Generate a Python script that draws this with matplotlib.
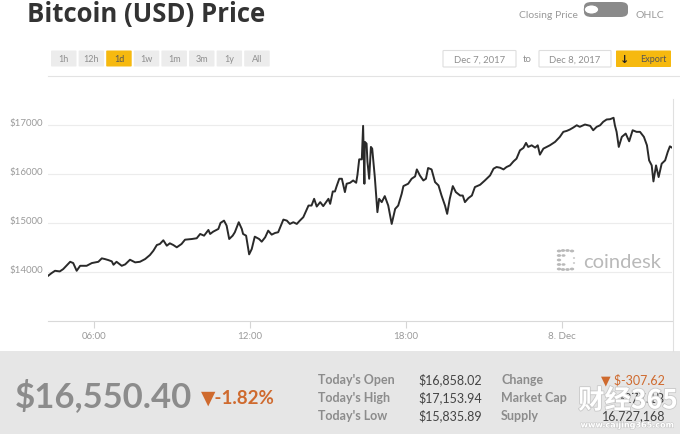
import matplotlib
matplotlib.use("Agg")
import matplotlib.pyplot as plt
import matplotlib.dates as mdates
import matplotlib.patheffects as pe
from matplotlib.patches import FancyBboxPatch, Rectangle, Circle
from matplotlib.lines import Line2D
import pandas as pd

plt.rcParams['font.family'] = ['Lato', 'DejaVu Sans']

# ---------------- data ----------------
times = [
    "07 04:14", "07 04:22", "07 04:30", "07 04:41", "07 04:49", "07 05:05", "07 05:12", "07 05:20",
    "07 05:28", "07 05:43", "07 05:55", "07 06:10", "07 06:18", "07 06:25", "07 06:33", "07 06:41",
    "07 06:45", "07 06:52", "07 07:04", "07 07:12", "07 07:23", "07 07:35", "07 07:46", "07 07:58",
    "07 08:09", "07 08:17", "07 08:25", "07 08:32", "07 08:40", "07 08:48", "07 08:55", "07 09:03",
    "07 09:11", "07 09:22", "07 09:30", "07 09:46", "07 09:57", "07 10:05", "07 10:14", "07 10:24",
    "07 10:28", "07 10:35", "07 10:47", "07 10:52", "07 11:00", "07 11:06", "07 11:12", "07 11:20",
    "07 11:25", "07 11:34", "07 11:41", "07 11:44", "07 11:51", "07 11:58", "07 12:04", "07 12:11",
    "07 12:21", "07 12:27", "07 12:35", "07 12:42", "07 12:50", "07 12:58", "07 13:05", "07 13:17",
    "07 13:25", "07 13:32", "07 13:40", "07 13:48", "07 13:55", "07 14:03", "07 14:15", "07 14:22",
    "07 14:28", "07 14:34", "07 14:42", "07 14:49", "07 15:01", "07 15:05", "07 15:11", "07 15:16",
    "07 15:20", "07 15:26", "07 15:32", "07 15:39", "07 15:43", "07 15:51", "07 15:58", "07 16:05",
    "07 16:08", "07 16:12", "07 16:18", "07 16:21", "07 16:24", "07 16:25", "07 16:29", "07 16:31",
    "07 16:35", "07 16:39", "07 16:42", "07 16:48", "07 16:54", "07 16:58", "07 17:04", "07 17:11",
    "07 17:19", "07 17:27", "07 17:35", "07 17:42", "07 17:50", "07 17:54", "07 18:05", "07 18:13",
    "07 18:21", "07 18:25", "07 18:32", "07 18:40", "07 18:46", "07 18:51", "07 18:59", "07 19:07",
    "07 19:15", "07 19:22", "07 19:30", "07 19:35", "07 19:41", "07 19:48", "07 19:55", "07 20:05",
    "07 20:11", "07 20:16", "07 20:24", "07 20:32", "07 20:39", "07 20:51", "07 21:02", "07 21:14",
    "07 21:22", "07 21:29", "07 21:37", "07 21:45", "07 21:52", "07 22:00", "07 22:08", "07 22:15",
    "07 22:23", "07 22:31", "07 22:37", "07 22:42", "07 22:50", "07 22:58", "07 23:04", "07 23:09",
    "07 23:17", "07 23:32", "07 23:44", "07 23:55", "08 00:03", "08 00:11", "08 00:18", "08 00:26",
    "08 00:34", "08 00:41", "08 00:53", "08 01:05", "08 01:12", "08 01:20", "08 01:28", "08 01:35",
    "08 01:43", "08 01:51", "08 01:59", "08 02:02", "08 02:06", "08 02:11", "08 02:18", "08 02:27",
    "08 02:35", "08 02:43", "08 02:52", "08 03:00", "08 03:09", "08 03:16", "08 03:21", "08 03:27",
    "08 03:31", "08 03:37", "08 03:43", "08 03:50", "08 03:58", "08 04:04", "08 04:09", "08 04:13",
]
prices = [
    13924, 13979, 14027, 14014, 14062, 14211, 14185, 14027,
    14129, 14129, 14185, 14211, 14281, 14267, 14246, 14220,
    14150, 14211, 14129, 14158, 14253, 14199, 14211, 14267,
    14349, 14437, 14554, 14575, 14651, 14540, 14589, 14554,
    14507, 14575, 14663, 14677, 14692, 14780, 14745, 14862,
    14780, 14827, 14883, 15006, 15053, 14951, 14677, 14745,
    14815, 15020, 14883, 14780, 14745, 14363, 14472, 14725,
    14677, 14622, 14712, 14848, 14766, 14801, 14815, 15074,
    15053, 14985, 15020, 14985, 15053, 15123, 15361, 15361,
    15499, 15341, 15431, 15349, 15499, 15396, 15649, 15649,
    15759, 15909, 15909, 15636, 15807, 15827, 15874, 15827,
    15991, 16306, 16306, 16991, 15807, 16663, 16628, 16258,
    15909, 16560, 16525, 15944, 15226, 15499, 15431, 15554,
    15361, 14985, 15293, 15361, 15601, 15759, 15807, 15909,
    15957, 16100, 15977, 15874, 15909, 16129, 16100, 15841,
    15772, 15566, 15361, 15191, 15499, 15759, 15636, 15566,
    15566, 15431, 15513, 15566, 15739, 15786, 15874, 15977,
    16115, 16149, 16135, 16100, 16149, 16182, 16264, 16320,
    16490, 16540, 16642, 16560, 16593, 16546, 16593, 16402,
    16525, 16593, 16663, 16765, 16868, 16888, 16915, 16956,
    17003, 16971, 17018, 16991, 16901, 16971, 17003, 17073,
    17121, 17127, 17156, 17003, 16868, 16560, 16765, 16833,
    16675, 16901, 16868, 16868, 16765, 16593, 16285, 16182,
    15854, 16182, 15944, 16217, 16285, 16457, 16572, 16550,
]
y_ticks = [14000, 15000, 16000, 17000]
y_tick_labels = ["$14000", "$15000", "$16000", "$17000"]
x_tick_times = ["2017-12-07 06:00", "2017-12-07 12:00", "2017-12-07 18:00", "2017-12-08 00:00"]
x_tick_labels = ["06:00", "12:00", "18:00", "8. Dec"]
x_range = ["2017-12-07 04:13:50", "2017-12-08 04:13:50"]
range_buttons = ["1h", "12h", "1d", "1w", "1m", "3m", "1y", "All"]
active_button = "1d"
date_from = "Dec 7, 2017"
date_to = "Dec 8, 2017"
current_price = "$16,550.40"
change_pct = "\u25BC-1.82%"
stat_labels_left = ["Today's Open", "Today's High", "Today's Low"]
stat_values_left = ["$16,858.02", "$17,153.94", "$15,835.89"]
stat_labels_right = ["Change", "Market Cap", "Supply"]
stat_values_right = ["\u25BC $-307.62", "$277.1B", "16,727,168"]

# ---------------- figure ----------------
W, H = 680, 435
fig = plt.figure(figsize=(6.8, 4.35), dpi=100)
fig.patch.set_facecolor("white")


def fx(x):
    return x / W


def fy(y):
    return 1 - y / H


def box(x0, y0, x1, y1, fc, ec="none", lw=0.8, r=1.5, z=1):
    p = FancyBboxPatch((fx(x0), fy(y1)), fx(x1) - fx(x0), fy(y0) - fy(y1),
                       boxstyle=f"round,pad=0,rounding_size={r / W}",
                       transform=fig.transFigure, fc=fc, ec=ec, lw=lw, zorder=z)
    fig.patches.append(p)


GRAY = "#9a9a9a"
DARK = "#333333"
ORANGE = "#cf6a2e"
YELLOW = "#f6b90f"

# title
fig.text(fx(27), fy(14.5), "Bitcoin (USD) Price", fontsize=18.5, fontweight="bold",
         color=DARK, va="center", ha="left", family=["Open Sans", "DejaVu Sans"])

# toggle
fig.text(fx(578), fy(15), "Closing Price", fontsize=7.5, color=GRAY, va="center", ha="right")
box(584, 3, 628, 18, "#8a8a8a", r=7.5)
fig.patches.append(Circle((fx(591.5), fy(10.5)), 7.2 / W, transform=fig.transFigure,
                          fc="white", ec="#8a8a8a", lw=0.8, zorder=2))
fig.text(fx(636), fy(15), "OHLC", fontsize=7.5, color=GRAY, va="center", ha="left")

# range buttons
for i, lab in enumerate(range_buttons):
    x0 = 51 + i * 27.6
    active = lab == active_button
    box(x0, 51.5, x0 + 25.5, 67.5, YELLOW if active else "#ececec", r=1)
    fig.text(fx(x0 + 12.75), fy(59.5), lab, fontsize=6.5,
             color="#555" if active else "#8f8f8f", ha="center", va="center")

# date boxes
box(443, 51.5, 516, 68, "white", ec="#dedede", r=1)
fig.text(fx(479.5), fy(59.8), date_from, fontsize=6.8, color="#8f8f8f", ha="center", va="center")
fig.text(fx(527.5), fy(59.8), "to", fontsize=6.8, color="#8f8f8f", ha="center", va="center")
box(539, 51.5, 611, 68, "white", ec="#dedede", r=1)
fig.text(fx(575), fy(59.8), date_to, fontsize=6.8, color="#8f8f8f", ha="center", va="center")
box(616, 51.5, 671, 68, YELLOW, r=1)
fig.text(fx(624.5), fy(59.5), "\u2193", fontsize=8, fontweight="bold", color="#222",
         ha="center", va="center", family="DejaVu Sans")
fig.text(fx(653), fy(59.8), "Export", fontsize=6.5, color="#555", ha="center", va="center")

# separator
fig.add_artist(Line2D([fx(48), fx(680)], [fy(77), fy(77)], color="#e3e3e3", lw=0.8))
# right border
fig.add_artist(Line2D([fx(673), fx(673)], [fy(100), fy(352)], color="#e0e0e0", lw=0.8))

# ---------------- chart ----------------
ax = fig.add_axes([fx(48), fy(322), (672 - 48) / W, (322 - 100) / H])
dates = pd.to_datetime(["2017-12-" + t for t in times])
ax.plot(dates, prices, color="#2a2a2a", lw=1.4, solid_joinstyle="round", zorder=3)
ax.set_xlim(pd.to_datetime(x_range[0]), pd.to_datetime(x_range[1]))
ax.set_ylim(13000, 17540)
ax.set_yticks(y_ticks)
ax.set_yticklabels(y_tick_labels)
ax.yaxis.grid(True, color="#ececec", lw=0.8)
ax.set_axisbelow(True)
ax.tick_params(axis="y", length=0, pad=28, labelsize=7, labelcolor=GRAY)
for lbl in ax.get_yticklabels():
    lbl.set_horizontalalignment("left")
    lbl.set_verticalalignment("baseline")
ax.set_xticks(pd.to_datetime(x_tick_times))
ax.set_xticklabels(x_tick_labels)
ax.tick_params(axis="x", length=5, width=0.8, color="#d5d5d5", pad=2, labelsize=7, labelcolor=GRAY)
for s in ["top", "right", "left"]:
    ax.spines[s].set_visible(False)
ax.spines["bottom"].set_color("#d9d9d9")
ax.spines["bottom"].set_linewidth(0.8)

# coindesk watermark
WM = "#b9b9b9"
for (cx, cy) in [(559, 252), (563, 251.5), (567.5, 251.5), (572, 252),
                 (559, 256.5), (559, 261), (559, 265.5), (559, 270),
                 (563, 270.5), (567.5, 270.5), (572, 270)]:
    fig.patches.append(Circle((fx(cx), fy(cy)), 2.2 / W, transform=fig.transFigure,
                              fc=WM, ec="none", zorder=4))
for (cx, cy) in [(563.5, 256.5), (563.5, 265.5)]:
    fig.patches.append(Circle((fx(cx), fy(cy)), 2.0 / W, transform=fig.transFigure,
                              fc=WM, ec="none", zorder=4))
for (cx, cy) in [(574, 259), (574, 264)]:
    fig.patches.append(Circle((fx(cx), fy(cy)), 1.1 / W, transform=fig.transFigure,
                              fc=WM, ec="none", zorder=4))
fig.text(fx(583), fy(262), "coindesk", fontsize=14.5, color=WM, ha="left", va="center")

# ---------------- bottom panel ----------------
fig.patches.append(Rectangle((0, 0), 1, fy(352), transform=fig.transFigure,
                             fc="#e6e6e6", ec="none", zorder=0))
fig.text(fx(15), fy(396), current_price, fontsize=25, fontweight="bold", color="#8c8c8c",
         ha="left", va="center")
fig.text(fx(201), fy(398), change_pct, fontsize=13.5, fontweight="bold", color=ORANGE,
         ha="left", va="center")
for i in range(3):
    yy = 380 + i * 18
    fig.text(fx(318), fy(yy), stat_labels_left[i], fontsize=9, fontweight="bold",
             color="#8c8c8c", ha="left", va="center")
    fig.text(fx(482), fy(yy), stat_values_left[i], fontsize=9, color="#444",
             ha="right", va="center")
    fig.text(fx(501), fy(yy), stat_labels_right[i], fontsize=9, fontweight="bold",
             color="#8c8c8c", ha="left", va="center")
    fig.text(fx(665), fy(yy), stat_values_right[i], fontsize=9,
             color=ORANGE if i == 0 else "#444", ha="right", va="center",
             family=["Lato", "DejaVu Sans"])

# caijing watermark
fig.text(fx(628), fy(402), "财经365", fontsize=19, fontweight="bold", color="white",
         ha="center", va="center", family=["Noto Sans CJK SC", "DejaVu Sans"],
         path_effects=[pe.withStroke(linewidth=1.2, foreground="#c8c8c8")], zorder=10)
fig.text(fx(627), fy(426), "www.caijing365.com", fontsize=5.8, fontweight="bold", color="white",
         ha="center", va="center", family=["DejaVu Sans"],
         path_effects=[pe.withStroke(linewidth=0.8, foreground="#c8c8c8")], zorder=10)

fig.savefig("out.png", dpi=100)
